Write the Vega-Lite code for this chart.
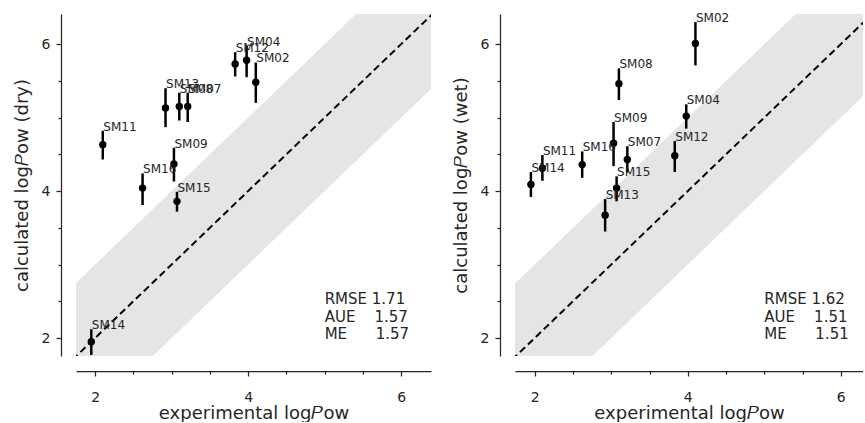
{
  "$schema": "https://vega.github.io/schema/vega-lite/v6.json",
  "background": "white",
  "padding": {"left": 13, "top": 12, "right": 0, "bottom": 0},
  "config": {
    "font": "DejaVu Sans",
    "view": {"stroke": null},
    "axis": {
      "domainColor": "#262626",
      "domainWidth": 1.25,
      "tickColor": "#262626",
      "tickWidth": 1.25,
      "labelColor": "#262626",
      "titleColor": "#262626",
      "labelFontSize": 14,
      "titleFontSize": 18,
      "titleFontWeight": "normal",
      "labelFont": "DejaVu Sans",
      "titleFont": "DejaVu Sans",
      "grid": false,
      "offset": 15,
      "values": [2, 3, 4, 5, 6],
      "format": "d",
      "labelExpr": "datum.value % 2 === 0 ? datum.label : ''",
      "tickSize": {"condition": {"test": "datum.value % 2 === 0", "value": 5}, "value": 3}
    },
    "axisX": {"labelPadding": 14, "titlePadding": 0},
    "axisY": {"labelPadding": 6, "titlePadding": 10},
    "concat": {"spacing": 21}
  },
  "datasets": {
    "band": [
      {"x": 1.6, "lo": 0.6, "hi": 2.6},
      {"x": 6.6, "lo": 5.6, "hi": 7.6}
    ],
    "diag": [
      {"v": 1.6},
      {"v": 6.6}
    ],
    "points": [
      {"set": "dry", "name": "SM14", "exp": 1.95, "calc": 1.95, "lo": 1.77, "hi": 2.12},
      {"set": "dry", "name": "SM11", "exp": 2.10, "calc": 4.63, "lo": 4.43, "hi": 4.82},
      {"set": "dry", "name": "SM16", "exp": 2.62, "calc": 4.04, "lo": 3.81, "hi": 4.24},
      {"set": "dry", "name": "SM09", "exp": 3.03, "calc": 4.37, "lo": 4.13, "hi": 4.59},
      {"set": "dry", "name": "SM15", "exp": 3.07, "calc": 3.86, "lo": 3.72, "hi": 3.99},
      {"set": "dry", "name": "SM13", "exp": 2.92, "calc": 5.13, "lo": 4.87, "hi": 5.40},
      {"set": "dry", "name": "SM08", "exp": 3.10, "calc": 5.15, "lo": 4.96, "hi": 5.34},
      {"set": "dry", "name": "SM07", "exp": 3.21, "calc": 5.15, "lo": 4.94, "hi": 5.34},
      {"set": "dry", "name": "SM12", "exp": 3.83, "calc": 5.73, "lo": 5.56, "hi": 5.89},
      {"set": "dry", "name": "SM04", "exp": 3.98, "calc": 5.78, "lo": 5.55, "hi": 5.98},
      {"set": "dry", "name": "SM02", "exp": 4.10, "calc": 5.48, "lo": 5.20, "hi": 5.75},
      {"set": "wet", "name": "SM14", "exp": 1.95, "calc": 4.09, "lo": 3.92, "hi": 4.26},
      {"set": "wet", "name": "SM11", "exp": 2.10, "calc": 4.31, "lo": 4.14, "hi": 4.49},
      {"set": "wet", "name": "SM16", "exp": 2.62, "calc": 4.36, "lo": 4.18, "hi": 4.54},
      {"set": "wet", "name": "SM09", "exp": 3.03, "calc": 4.65, "lo": 4.34, "hi": 4.94},
      {"set": "wet", "name": "SM15", "exp": 3.07, "calc": 4.04, "lo": 3.86, "hi": 4.20},
      {"set": "wet", "name": "SM13", "exp": 2.92, "calc": 3.67, "lo": 3.45, "hi": 3.89},
      {"set": "wet", "name": "SM08", "exp": 3.10, "calc": 5.46, "lo": 5.24, "hi": 5.67},
      {"set": "wet", "name": "SM07", "exp": 3.21, "calc": 4.43, "lo": 4.25, "hi": 4.61},
      {"set": "wet", "name": "SM12", "exp": 3.83, "calc": 4.48, "lo": 4.26, "hi": 4.68},
      {"set": "wet", "name": "SM04", "exp": 3.98, "calc": 5.02, "lo": 4.85, "hi": 5.18},
      {"set": "wet", "name": "SM02", "exp": 4.10, "calc": 6.01, "lo": 5.71, "hi": 6.30}
    ],
    "stats": [
      {"set": "dry", "text": "RMSE 1.71\nAUE\u00a0\u00a0\u00a0\u00a01.57\nME\u00a0\u00a0\u00a0\u00a0\u00a0\u00a01.57"},
      {"set": "wet", "text": "RMSE 1.62\nAUE\u00a0\u00a0\u00a0\u00a01.51\nME\u00a0\u00a0\u00a0\u00a0\u00a0\u00a01.51"}
    ]
  },
  "hconcat": [
    {
      "width": 355,
      "height": 342,
      "layer": [
        {
          "data": {"name": "band"},
          "mark": {"type": "area", "color": "#e5e5e5", "opacity": 1, "clip": true},
          "encoding": {
            "x": {"field": "x", "type": "quantitative", "scale": {"domain": [1.75, 6.39], "nice": false, "zero": false}, "title": "experimental log𝑃ow"},
            "y": {"field": "lo", "type": "quantitative", "scale": {"domain": [1.755, 6.41], "nice": false, "zero": false}, "title": "calculated log𝑃ow (dry)"},
            "y2": {"field": "hi"}
          }
        },
        {
          "data": {"name": "diag"},
          "mark": {"type": "line", "color": "black", "strokeDash": [7, 4], "strokeWidth": 2, "clip": true},
          "encoding": {
            "x": {"field": "v", "type": "quantitative", "scale": {"domain": [1.75, 6.39], "nice": false, "zero": false}},
            "y": {"field": "v", "type": "quantitative", "scale": {"domain": [1.755, 6.41], "nice": false, "zero": false}}
          }
        },
        {
          "data": {"name": "points"},
          "transform": [{"filter": "datum.set === 'dry'"}],
          "mark": {"type": "rule", "color": "black", "strokeWidth": 2.5},
          "encoding": {
            "x": {"field": "exp", "type": "quantitative"},
            "y": {"field": "lo", "type": "quantitative"},
            "y2": {"field": "hi"}
          }
        },
        {
          "data": {"name": "points"},
          "transform": [{"filter": "datum.set === 'dry'"}],
          "mark": {"type": "circle", "color": "black", "opacity": 1, "size": 55},
          "encoding": {
            "x": {"field": "exp", "type": "quantitative"},
            "y": {"field": "calc", "type": "quantitative"}
          }
        },
        {
          "data": {"name": "points"},
          "transform": [{"filter": "datum.set === 'dry'"}],
          "mark": {"type": "text", "align": "left", "baseline": "alphabetic", "fontSize": 12, "color": "#262626", "dx": 0.5},
          "encoding": {
            "x": {"field": "exp", "type": "quantitative"},
            "y": {"field": "hi", "type": "quantitative"},
            "text": {"field": "name"}
          }
        },
        {
          "data": {"name": "stats"},
          "transform": [{"filter": "datum.set === 'dry'"}],
          "mark": {"type": "text", "align": "left", "baseline": "alphabetic", "fontSize": 15, "color": "#262626", "lineBreak": "\n", "lineHeight": 17.5},
          "encoding": {
            "x": {"datum": 5.0},
            "y": {"datum": 2.46},
            "text": {"field": "text"}
          }
        }
      ]
    },
    {
      "width": 348,
      "height": 342,
      "layer": [
        {
          "data": {"name": "band"},
          "mark": {"type": "area", "color": "#e5e5e5", "opacity": 1, "clip": true},
          "encoding": {
            "x": {"field": "x", "type": "quantitative", "scale": {"domain": [1.742, 6.29], "nice": false, "zero": false}, "title": "experimental log𝑃ow"},
            "y": {"field": "lo", "type": "quantitative", "scale": {"domain": [1.755, 6.41], "nice": false, "zero": false}, "title": "calculated log𝑃ow (wet)"},
            "y2": {"field": "hi"}
          }
        },
        {
          "data": {"name": "diag"},
          "mark": {"type": "line", "color": "black", "strokeDash": [7, 4], "strokeWidth": 2, "clip": true},
          "encoding": {
            "x": {"field": "v", "type": "quantitative", "scale": {"domain": [1.742, 6.29], "nice": false, "zero": false}},
            "y": {"field": "v", "type": "quantitative", "scale": {"domain": [1.755, 6.41], "nice": false, "zero": false}}
          }
        },
        {
          "data": {"name": "points"},
          "transform": [{"filter": "datum.set === 'wet'"}],
          "mark": {"type": "rule", "color": "black", "strokeWidth": 2.5},
          "encoding": {
            "x": {"field": "exp", "type": "quantitative"},
            "y": {"field": "lo", "type": "quantitative"},
            "y2": {"field": "hi"}
          }
        },
        {
          "data": {"name": "points"},
          "transform": [{"filter": "datum.set === 'wet'"}],
          "mark": {"type": "circle", "color": "black", "opacity": 1, "size": 55},
          "encoding": {
            "x": {"field": "exp", "type": "quantitative"},
            "y": {"field": "calc", "type": "quantitative"}
          }
        },
        {
          "data": {"name": "points"},
          "transform": [{"filter": "datum.set === 'wet'"}],
          "mark": {"type": "text", "align": "left", "baseline": "alphabetic", "fontSize": 12, "color": "#262626", "dx": 0.5},
          "encoding": {
            "x": {"field": "exp", "type": "quantitative"},
            "y": {"field": "hi", "type": "quantitative"},
            "text": {"field": "name"}
          }
        },
        {
          "data": {"name": "stats"},
          "transform": [{"filter": "datum.set === 'wet'"}],
          "mark": {"type": "text", "align": "left", "baseline": "alphabetic", "fontSize": 15, "color": "#262626", "lineBreak": "\n", "lineHeight": 17.5},
          "encoding": {
            "x": {"datum": 5.0},
            "y": {"datum": 2.46},
            "text": {"field": "text"}
          }
        }
      ]
    }
  ]
}
